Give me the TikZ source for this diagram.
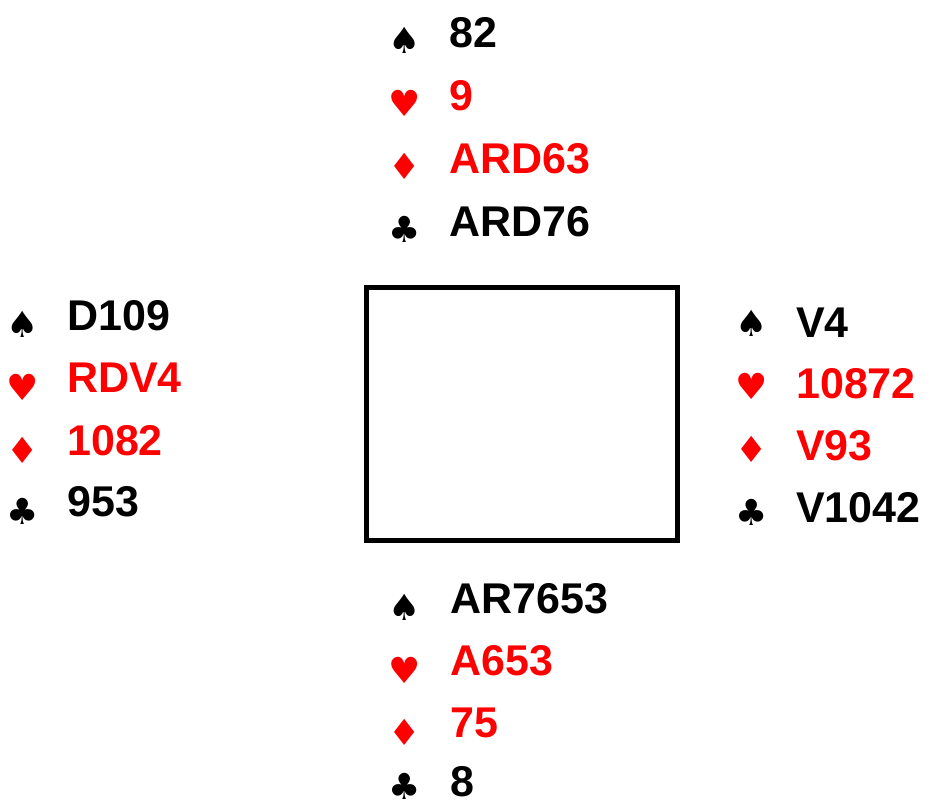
\documentclass[tikz,border=0pt]{standalone}
\usepackage{fontspec}
\setmainfont{Liberation Sans}
\newfontfamily\suitfont{DejaVu Sans}
\definecolor{cardred}{RGB}{255,0,0}
\tikzset{
  holding/.style={anchor=base west, inner sep=0pt, font=\fontsize{43}{43}\selectfont\bfseries},
  suit/.style={anchor=center, inner sep=0pt, font=\suitfont\fontsize{36}{36}\selectfont},
  redc/.style={text=cardred},
  blackc/.style={text=black},
  table/.style={draw=black, line width=5pt}
}
\begin{document}
\begin{tikzpicture}[x=1pt,y=-1pt]
\useasboundingbox (0,0) rectangle (931,805);
% table
\draw[table] (366.5,287.5) rectangle (677.5,540.5);
% North
\node[suit,blackc] (ns) at (405,40) {♠};
\node[suit,redc]   (nh) at (405,103) {♥};
\node[suit,redc]   (nd) at (405,166) {♦};
\node[suit,blackc] (nc) at (405,229) {♣};
\node[holding,blackc] (nst) at (449,48) {82};
\node[holding,redc]   (nht) at (449,111) {9};
\node[holding,redc]   (ndt) at (449,174) {ARD63};
\node[holding,blackc] (nct) at (449,236) {ARD76};
% West
\node[suit,blackc] (ws) at (23,324) {♠};
\node[suit,redc]   (wh) at (23,387) {♥};
\node[suit,redc]   (wd) at (23,450) {♦};
\node[suit,blackc] (wc) at (23,511) {♣};
\node[holding,blackc] (wst) at (67,330) {D109};
\node[holding,redc]   (wht) at (67,392) {RDV4};
\node[holding,redc]   (wdt) at (67,455) {1082};
\node[holding,blackc] (wct) at (67,516) {953};
% East
\node[suit,blackc] (es) at (752,323) {♠};
\node[suit,redc]   (eh) at (752,386) {♥};
\node[suit,redc]   (ed) at (752,449) {♦};
\node[suit,blackc] (ec) at (752,512) {♣};
\node[holding,blackc] (est) at (796,337) {V4};
\node[holding,redc]   (eht) at (796,398) {10872};
\node[holding,redc]   (edt) at (796,460) {V93};
\node[holding,blackc] (ect) at (796,522) {V1042};
% South
\node[suit,blackc] (ss) at (405,607) {♠};
\node[suit,redc]   (sh) at (405,670) {♥};
\node[suit,redc]   (sd) at (405,732) {♦};
\node[suit,blackc] (sc) at (405,786) {♣};
\node[holding,blackc] (sst) at (450,613) {AR7653};
\node[holding,redc]   (sht) at (450,675) {A653};
\node[holding,redc]   (sdt) at (450,737) {75};
\node[holding,blackc] (sct) at (450,796) {8};
\end{tikzpicture}
\end{document}
